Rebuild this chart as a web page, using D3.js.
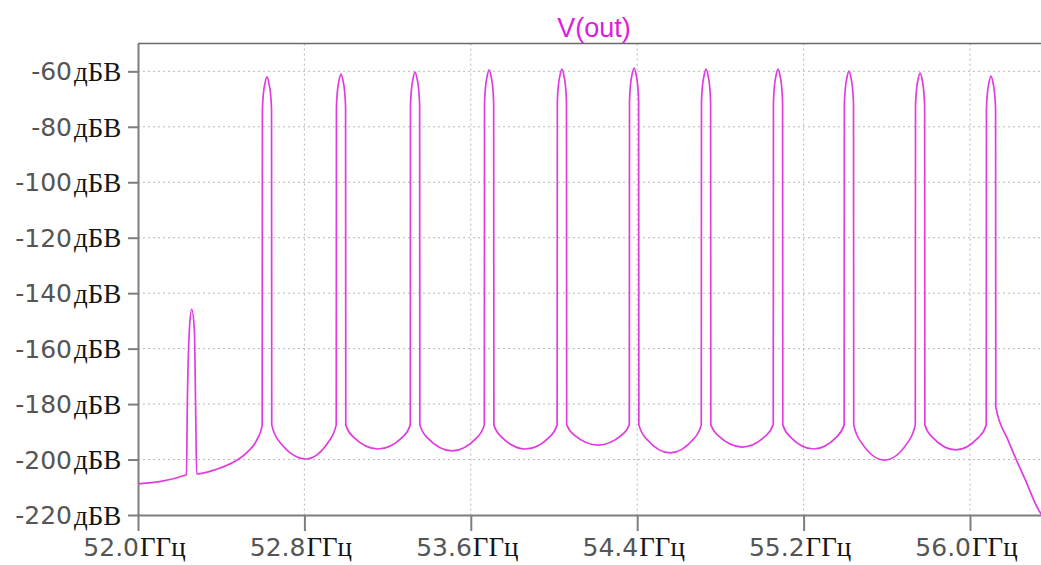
<!DOCTYPE html>
<html>
<head>
<meta charset="utf-8">
<script src="https://cdn.jsdelivr.net/npm/d3@7"></script>
<style>
body { margin: 0; background: #fff; }
</style>
</head>
<body>
<svg width="1041" height="565"></svg>
<script>
// trace title, axis ticks and units as shown in the reference
const title = "V(out)";
const yTicks = [-220, -200, -180, -160, -140, -120, -100, -80, -60];
const xTicks = [52.0, 52.8, 53.6, 54.4, 55.2, 56.0];
const yUnit = "дБВ";
const xUnit = "ГГц";

// spectrum trace: [frequency GHz, level dBV]
const trace = [
	// noise floor and small spur
	[52.000, -208.8], [52.233, -205.5],
	[52.237, -181], [52.247, -153.3], [52.258, -145.8], [52.271, -153.3], [52.277, -181], [52.282, -205.2],
	[52.378, -203.5], [52.458, -201], [52.523, -197.5], [52.571, -193],
	// tone 1
	[52.597, -187.8], [52.598, -74], [52.603, -68], [52.610, -64.5], [52.620, -62], [52.630, -64.5], [52.637, -68], [52.642, -74], [52.643, -187.5],
	[52.680, -193.6], [52.808, -199.8], [52.916, -193.6],
	// tone 2
	[52.953, -187.5], [52.954, -73], [52.959, -67], [52.966, -63.5], [52.976, -61], [52.986, -63.5], [52.993, -67], [52.998, -73], [52.999, -187.5],
	[53.036, -191.9], [53.154, -196.2], [53.272, -191.9],
	// tone 3
	[53.309, -187.5], [53.310, -72.3], [53.315, -66.3], [53.322, -62.8], [53.332, -60.3], [53.342, -62.8], [53.349, -66.3], [53.354, -72.3], [53.355, -187.5],
	[53.392, -192.2], [53.510, -196.9], [53.628, -192.2],
	// tone 4
	[53.665, -187.5], [53.666, -71.5], [53.671, -65.5], [53.678, -62], [53.688, -59.5], [53.698, -62], [53.705, -65.5], [53.710, -71.5], [53.711, -187.5],
	[53.748, -191.9], [53.863, -196.2], [53.978, -191.9],
	// tone 5
	[54.015, -187.5], [54.016, -71.2], [54.021, -65.2], [54.028, -61.7], [54.038, -59.2], [54.048, -61.7], [54.055, -65.2], [54.060, -71.2], [54.061, -187.5],
	[54.098, -191.2], [54.212, -194.8], [54.325, -191.2],
	// tone 6
	[54.362, -187.5], [54.363, -70.8], [54.368, -64.8], [54.375, -61.3], [54.385, -58.8], [54.395, -61.3], [54.402, -64.8], [54.407, -70.8], [54.408, -187.5],
	[54.445, -192.6], [54.558, -197.6], [54.671, -192.6],
	// tone 7
	[54.708, -187.5], [54.709, -71.2], [54.714, -65.2], [54.721, -61.7], [54.731, -59.2], [54.741, -61.7], [54.748, -65.2], [54.753, -71.2], [54.754, -187.5],
	[54.791, -191.5], [54.904, -195.5], [55.017, -191.5],
	// tone 8
	[55.054, -187.5], [55.055, -71.2], [55.060, -65.2], [55.067, -61.7], [55.077, -59.2], [55.087, -61.7], [55.094, -65.2], [55.099, -71.2], [55.100, -187.5],
	[55.137, -191.9], [55.248, -196.2], [55.358, -191.9],
	// tone 9
	[55.395, -187.5], [55.396, -71.9], [55.401, -65.9], [55.408, -62.4], [55.418, -59.9], [55.428, -62.4], [55.435, -65.9], [55.440, -71.9], [55.441, -187.5],
	[55.478, -193.9], [55.589, -200.2], [55.700, -193.9],
	// tone 10
	[55.737, -187.5], [55.738, -72.6], [55.743, -66.6], [55.750, -63.1], [55.760, -60.6], [55.770, -63.1], [55.777, -66.6], [55.782, -72.6], [55.783, -187.5],
	[55.820, -192], [55.931, -196.5], [56.041, -192],
	// tone 11 and roll-off
	[56.078, -187.5], [56.079, -73.7], [56.084, -67.7], [56.091, -64.2], [56.101, -61.7], [56.111, -64.2], [56.118, -67.7], [56.123, -73.7], [56.124, -181],
	[56.183, -193], [56.264, -207], [56.341, -219.5], [56.360, -221]
];

const svg = d3.select("svg");

const plotLeft = 138, plotRight = 1042.8, plotTop = 43.6, plotBottom = 515;

const x = d3.scaleLinear()
	.domain([52.0, 56.35])
	.range([plotLeft, plotRight]);

const y = d3.scaleLinear()
	.domain([-220, -50])
	.range([plotBottom, plotTop]);

const numFont = "'DejaVu Sans', sans-serif";
const unitFont = "'Liberation Serif', 'Times New Roman', serif";

// dotted grid
svg.append("g")
	.selectAll("line")
	.data(yTicks.filter(d => d > -220))
	.enter()
	.append("line")
	.attr("x1", plotLeft)
	.attr("x2", 1041)
	.attr("y1", d => y(d))
	.attr("y2", d => y(d))
	.style("stroke", "#b8b8b8")
	.style("stroke-width", 1)
	.style("stroke-dasharray", "2,3");

svg.append("g")
	.selectAll("line")
	.data(xTicks.filter(d => d > 52.0))
	.enter()
	.append("line")
	.attr("x1", d => x(d))
	.attr("x2", d => x(d))
	.attr("y1", plotTop)
	.attr("y2", plotBottom)
	.style("stroke", "#b8b8b8")
	.style("stroke-width", 1)
	.style("stroke-dasharray", "2,3");

// top frame line
svg.append("line")
	.attr("x1", plotLeft)
	.attr("x2", 1041)
	.attr("y1", plotTop)
	.attr("y2", plotTop)
	.style("stroke", "#6a6a6a")
	.style("stroke-width", 1.5);

// trace
svg.append("clipPath")
	.attr("id", "plot-clip")
	.append("rect")
	.attr("x", plotLeft)
	.attr("y", plotTop)
	.attr("width", plotRight - plotLeft)
	.attr("height", plotBottom - plotTop);

const line = d3.line()
	.x(d => x(d[0]))
	.y(d => y(d[1]))
	.curve(d3.curveMonotoneX);

svg.append("path")
	.attr("d", line(trace))
	.attr("clip-path", "url(#plot-clip)")
	.style("fill", "none")
	.style("stroke", "#e03ce0")
	.style("stroke-width", 1.7);

// axes (lines and ticks only, labels drawn below)
const yAxis = svg.append("g")
	.attr("transform", `translate(${plotLeft},0)`)
	.call(d3.axisLeft(y).tickValues(yTicks).tickSize(10).tickSizeOuter(0).tickFormat(() => ""));

const xAxis = svg.append("g")
	.attr("transform", `translate(0,${plotBottom})`)
	.call(d3.axisBottom(x).tickValues(xTicks).tickSize(16).tickSizeOuter(0).tickFormat(() => ""));

[yAxis, xAxis].forEach(g => {
	g.selectAll("path, line")
		.style("stroke", "#7e7e7e")
		.style("stroke-width", 2);
});

// y tick labels: number in sans, unit in serif
const yLab = svg.append("g")
	.selectAll("g")
	.data(yTicks)
	.enter()
	.append("g")
	.attr("transform", d => `translate(0,${y(d)})`);

yLab.append("text")
	.attr("x", 72)
	.attr("dy", "0.36em")
	.attr("text-anchor", "end")
	.style("font-family", numFont)
	.style("font-size", "25px")
	.style("fill", "#555")
	.text(d => d);

yLab.append("text")
	.attr("x", 74)
	.attr("dy", "0.36em")
	.style("font-family", unitFont)
	.style("font-size", "27px")
	.style("fill", "#151515")
	.text(yUnit);

// x tick labels
const xLab = svg.append("g")
	.selectAll("g")
	.data(xTicks)
	.enter()
	.append("g")
	.attr("transform", d => `translate(${x(d) + 1},556)`);

xLab.append("text")
	.attr("text-anchor", "end")
	.style("font-family", numFont)
	.style("font-size", "25px")
	.style("fill", "#555")
	.text(d => d.toFixed(1));

xLab.append("text")
	.attr("x", 1)
	.style("font-family", unitFont)
	.style("font-size", "27px")
	.style("fill", "#151515")
	.text(xUnit);

// title
svg.append("text")
	.attr("x", 594)
	.attr("y", 37)
	.attr("text-anchor", "middle")
	.style("font-family", "'Liberation Sans', Arial, sans-serif")
	.style("font-size", "27px")
	.style("fill", "#dc1edc")
	.text(title);
</script>
</body>
</html>
